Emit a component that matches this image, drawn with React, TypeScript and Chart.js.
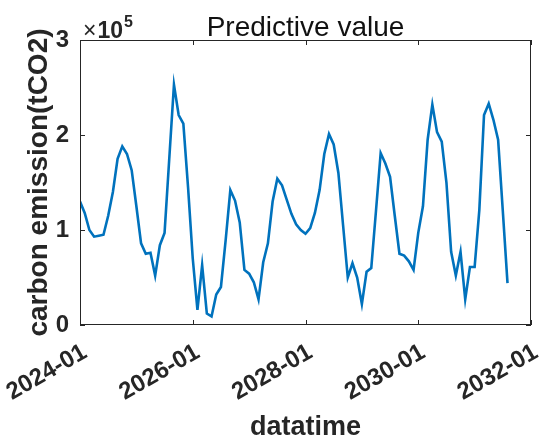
import { useEffect, useRef } from 'react';
import { Chart, registerables } from 'chart.js';

Chart.register(...registerables);

const FONT = '"Liberation Sans", Arial, Helvetica, sans-serif';
const AXIS_COLOR = '#262626';
const LINE_COLOR = '#0072BD';

// Monthly predicted emissions (tCO2), starting 2024-01
const startYear = 2024;
const emissions = [
  130000, 118000, 100000, 93000, 94000, 95000, 115000, 140000, 175000, 188000,
  180000, 163000, 125000, 86000, 75000, 76000, 52000, 84000, 97000, 175000,
  253000, 221000, 212000, 145000, 70000, 16000, 63000, 12000, 9000, 32000,
  40000, 89000, 142000, 131000, 108000, 58000, 54000, 45000, 27000, 66000,
  86000, 130000, 154000, 147000, 132000, 117000, 106000, 100000, 96000, 102000,
  118000, 142000, 180000, 201000, 190000, 160000, 105000, 50000, 65000, 50000,
  22000, 56000, 60000, 120000, 181000, 170000, 156000, 115000, 75000, 73000,
  67000, 58000, 97000, 125000, 195000, 232000, 203000, 193000, 150000, 77000,
  52000, 77000, 27000, 61000, 61000, 121000, 221000, 233000, 216000, 195000,
  120000, 44000,
];
const monthIndex = emissions.map((_, i) => i);

const xTickMonths = [0, 24, 48, 72, 96];
const xTickLabels = ['2024-01', '2026-01', '2028-01', '2030-01', '2032-01'];
const yTickValues = [0, 100000, 200000, 300000];
const yTickLabels = ['0', '1', '2', '3'];

const titleText = 'Predictive value';
const xTitle = 'datatime';
const yTitle = 'carbon emission(tCO2)';

const framePlugin = {
  id: 'matlabFrame',
  afterDraw(chart: any) {
    const { ctx, chartArea } = chart;
    const { left, right, top, bottom } = chartArea;
    const xs = chart.scales.x;
    const ys = chart.scales.y;
    ctx.save();
    ctx.strokeStyle = AXIS_COLOR;
    ctx.lineWidth = 1;
    ctx.strokeRect(left + 0.5, top + 0.5, right - left - 1, bottom - top - 1);
    const tl = 5;
    ctx.beginPath();
    xTickMonths.forEach((m) => {
      const px = Math.round(xs.getPixelForValue(m)) + 0.5;
      ctx.moveTo(px, bottom);
      ctx.lineTo(px, bottom - tl);
      ctx.moveTo(px, top);
      ctx.lineTo(px, top + tl);
    });
    yTickValues.forEach((v) => {
      const py = Math.round(ys.getPixelForValue(v)) + 0.5;
      ctx.moveTo(left, py);
      ctx.lineTo(left + tl, py);
      ctx.moveTo(right, py);
      ctx.lineTo(right - tl, py);
    });
    ctx.stroke();

    // title
    ctx.fillStyle = '#111111';
    ctx.font = `28px ${FONT}`;
    ctx.textAlign = 'center';
    ctx.textBaseline = 'alphabetic';
    ctx.fillText(titleText, (left + right) / 2, 36);

    // exponent label
    ctx.fillStyle = AXIS_COLOR;
    ctx.textAlign = 'left';
    let x = left + 3;
    ctx.font = `23px ${FONT}`;
    ctx.fillText('\u00d7', x, 38);
    x += ctx.measureText('\u00d7').width + 1;
    ctx.font = `bold 23px ${FONT}`;
    ctx.fillText('10', x, 38);
    x += ctx.measureText('10').width + 1;
    ctx.font = `bold 16px ${FONT}`;
    ctx.fillText('5', x, 27);
    ctx.restore();
  },
};

export default function App() {
  const ref = useRef<HTMLCanvasElement | null>(null);

  useEffect(() => {
    if (!ref.current) return;
    const chart = new Chart(ref.current, {
      type: 'line',
      data: {
        datasets: [
          {
            label: 'Predictive value',
            data: monthIndex.map((m, i) => ({ x: m, y: emissions[i] })),
            borderColor: LINE_COLOR,
            borderWidth: 2.6,
            pointRadius: 0,
            tension: 0,
            fill: false,
          },
        ],
      },
      options: {
        responsive: false,
        animation: false,
        layout: { padding: { left: 0, right: 10, top: 40, bottom: 0 } },
        plugins: {
          legend: { display: false },
          tooltip: { enabled: false },
          title: { display: false },
        },
        scales: {
          x: {
            type: 'linear',
            min: 0,
            max: 96,
            grid: { display: false, drawTicks: false },
            border: { display: false },
            afterBuildTicks: (s: any) => {
              s.ticks = xTickMonths.map((v) => ({ value: v }));
            },
            ticks: {
              autoSkip: false,
              minRotation: 30,
              maxRotation: 30,
              padding: 13,
              labelOffset: 5,
              color: AXIS_COLOR,
              font: { family: FONT, size: 24, weight: 'bold' },
              callback: (v: any) => {
                const i = xTickMonths.indexOf(Number(v));
                return i >= 0 ? xTickLabels[i] : '';
              },
            },
            title: {
              display: true,
              text: xTitle,
              color: AXIS_COLOR,
              font: { family: FONT, size: 27, weight: 'bold' },
              padding: { top: 0, bottom: 1 },
            },
            afterFit: (s: any) => {
              s.height = 120;
              s.paddingLeft = 0;
              s.paddingRight = 0;
            },
          },
          y: {
            type: 'linear',
            min: 0,
            max: 300000,
            grid: { display: false, drawTicks: false },
            border: { display: false },
            afterBuildTicks: (s: any) => {
              s.ticks = yTickValues.map((v) => ({ value: v }));
            },
            ticks: {
              padding: 11,
              color: AXIS_COLOR,
              font: { family: FONT, size: 24, weight: 'bold' },
              callback: (v: any) => {
                const i = yTickValues.indexOf(Number(v));
                return i >= 0 ? yTickLabels[i] : '';
              },
            },
            title: {
              display: true,
              text: yTitle,
              color: AXIS_COLOR,
              font: { family: FONT, size: 28, weight: 'bold' },
              padding: { top: 22, bottom: 0 },
            },
            afterFit: (s: any) => {
              s.width = 80;
              s.paddingTop = 0;
              s.paddingBottom = 0;
            },
          },
        },
      },
      plugins: [framePlugin],
    } as any);
    return () => chart.destroy();
  }, []);

  return (
    <div style={{ position: 'absolute', left: 0, top: 0, width: 541, height: 445, background: '#fff' }}>
      <canvas ref={ref} width={541} height={445} style={{ display: 'block' }} />
    </div>
  );
}
